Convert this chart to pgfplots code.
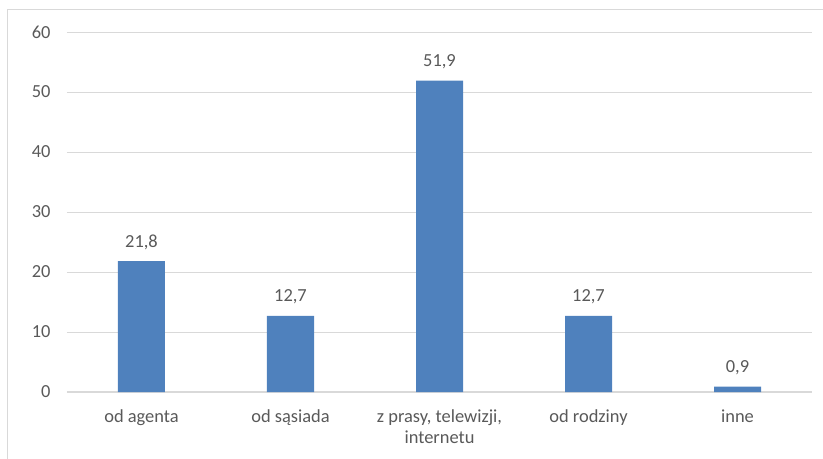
\documentclass[border=0pt]{standalone}
\usepackage{fontspec}
\setmainfont{Carlito}
\usepackage{pgfplots}
\pgfplotsset{compat=1.18}
\definecolor{barblue}{HTML}{4F81BD}
\definecolor{gridgray}{HTML}{D9D9D9}
\definecolor{labelgray}{HTML}{595959}
\begin{document}
\begin{tikzpicture}
\useasboundingbox (-67bp,-67bp) rectangle (756bp,392bp);
\draw[gridgray, line width=0.8bp] (-60bp,-67bp) -- (-60bp,383bp) -- (756bp,383bp);
\begin{axis}[
  at={(0,0)}, anchor=south west,
  scale only axis,
  width=745bp, height=360bp,
  ymin=0, ymax=60,
  xmin=-0.5, xmax=4.5,
  ytick={0,10,...,60},
  xtick={0,1,2,3,4},
  xticklabels={od agenta, od sąsiada, {z prasy, telewizji,\\internetu}, od rodziny, inne},
  axis line style={draw=none},
  major tick length=0pt,
  ymajorgrids,
  grid style={gridgray, line width=0.8bp},
  tick label style={font=\fontsize{18.5}{21}\selectfont, text=labelgray},
  xticklabel style={align=center, yshift=-14bp},
  yticklabel style={xshift=-13bp},
  /pgf/number format/assume math mode=true,
  clip=false,
  extra y ticks={0},
  extra y tick labels={},
  extra y tick style={grid style={gridgray, line width=1.2bp}},
]
\addplot[ybar, bar width=47bp, fill=barblue, draw=none,
  nodes near coords,
  every node near coord/.append style={font=\fontsize{18.5}{21}\selectfont, text=labelgray, yshift=8bp},
  /pgf/number format/.cd, fixed, fixed zerofill, precision=1, use comma, assume math mode=true]
  coordinates {(0,21.8) (1,12.7) (2,51.9) (3,12.7) (4,0.9)};
\end{axis}
\end{tikzpicture}
\end{document}
